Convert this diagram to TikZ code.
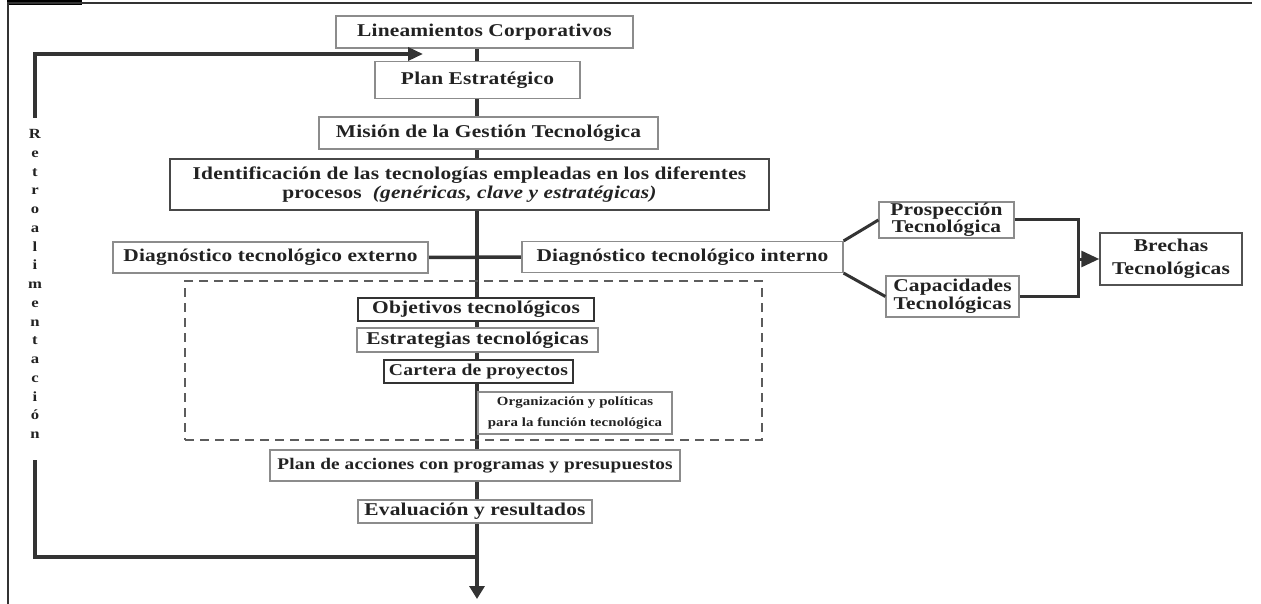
\documentclass[tikz,border=0pt]{standalone}
\usepackage{fontspec}
\setmainfont{Liberation Serif}
\newfontfamily\spaced[FakeStretch=1.19,LetterSpace=1]{Liberation Serif}
\usetikzlibrary{arrows.meta,backgrounds}
\definecolor{linec}{HTML}{333333}
\definecolor{boxc}{HTML}{8C8C8C}
\definecolor{txtc}{HTML}{222222}
\tikzset{
  box/.style={draw=boxc, line width=1.2pt, fill=white, text=txtc, inner sep=0pt,
    font=\spaced\bfseries\fontsize{18}{19}\selectfont, align=center},
  darkbox/.style={box, draw=linec, line width=1.5pt},
  smallbox/.style={box, font=\spaced\bfseries\fontsize{12.5}{21}\selectfont},
  conn/.style={draw=linec, line width=3.5pt},
  thinconn/.style={draw=linec, line width=3pt},
  groupbox/.style={draw=linec!80, line width=1.2pt, dash pattern=on 9pt off 6pt},
}
\begin{document}
\begin{tikzpicture}[x=1pt,y=-1pt]
\useasboundingbox (0,0) rectangle (1261,604);
% frame
\fill[black] (7,0) rectangle (82,5);
\draw[linec, line width=2.5pt] (7,3) -- (1252,3);
\draw[linec, line width=2pt] (8,3) -- (8,604);
% dashed group
\node[groupbox, minimum width=577pt, minimum height=159pt] (grp) at (473.5,360.5) {};
% boxes
\node[box, minimum width=297pt, minimum height=32pt] (lin) at (484.5,32) {Lineamientos Corporativos};
\node[box, minimum width=205pt, minimum height=37pt] (plan) at (477.5,80) {Plan Estratégico};
\node[box, minimum width=339pt, minimum height=32pt] (mis) at (488.5,133) {Misión de la Gestión Tecnológica};
\node[box, draw=linec!90, minimum width=599pt, minimum height=51pt] (ident) at (469.5,184.5) {Identificación de las tecnologías empleadas en los diferentes\\procesos \ \textit{(genéricas, clave y estratégicas)}};
\node[box, minimum width=315pt, minimum height=31pt] (ext) at (270.5,257.5) {Diagnóstico tecnológico externo};
\node[box, minimum width=321pt, minimum height=31pt] (int) at (682.5,257) {Diagnóstico tecnológico interno};
\node[box, font=\spaced\bfseries\fontsize{18}{17}\selectfont, minimum width=135pt, minimum height=36pt] (pros) at (946.5,220) {Prospección\\Tecnológica};
\node[box, font=\spaced\bfseries\fontsize{18}{18}\selectfont, minimum width=133pt, minimum height=41pt] (cap) at (952.5,296.5) {Capacidades\\Tecnológicas};
\node[darkbox, draw=linec!85, font=\spaced\bfseries\fontsize{18}{23}\selectfont, minimum width=142pt, minimum height=52pt] (bre) at (1171,259) {Brechas\\Tecnológicas};
\node[darkbox, minimum width=236pt, minimum height=23pt] (obj) at (476,309.5) {Objetivos tecnológicos};
\node[box, minimum width=241pt, minimum height=24pt] (est) at (477.5,340) {Estrategias tecnológicas};
\node[darkbox, font=\spaced\bfseries\fontsize{16.5}{18}\selectfont, minimum width=189pt, minimum height=23pt] (car) at (478.5,371.5) {Cartera de proyectos};
\node[smallbox, minimum width=194pt, minimum height=42pt] (org) at (575,413) {Organización y políticas\\para la función tecnológica};
\node[box, font=\spaced\bfseries\fontsize{16.2}{18}\selectfont, minimum width=410pt, minimum height=31pt] (pla) at (475,465.5) {Plan de acciones con programas y presupuestos};
\node[box, minimum width=234pt, minimum height=23pt] (eva) at (475,511.5) {Evaluación y resultados};
% feedback label
\node[text=txtc, font=\spaced\bfseries\fontsize{14}{18.75}\selectfont, align=center, inner sep=0pt] (retro) at (35,284)
  {R\\e\\t\\r\\o\\a\\l\\i\\m\\e\\n\\t\\a\\c\\i\\ó\\n};
% coordinates
\coordinate (mtop) at (477,48);
\coordinate (mtip) at (477,599);
\coordinate (fbstart) at (477,557);
\coordinate (fbc1) at (35,557);
\coordinate (fbend1) at (35,460);
\coordinate (fbend2) at (35,118);
\coordinate (fbc2) at (35,54);
\coordinate (fbtip) at (423,54);
\coordinate (jn) at (1078,259);
\begin{pgfonlayer}{background}
\draw[conn, -{Triangle[length=13pt,width=15pt]}] (mtop) -- (mtip);
\draw[conn] (ext.east) -- (int.west);
\end{pgfonlayer}
\draw[conn] (fbstart) -- (fbc1) -- (fbend1);
\draw[conn, -{Triangle[length=15pt,width=13pt]}] (fbend2) -- (fbc2) -- (fbtip);
\draw[thinconn] (int.north east) -- (pros.west);
\draw[thinconn] (int.south east) -- (cap.west);
\draw[thinconn] (pros.east) -| (jn) |- (cap.east);
\draw[thinconn, -{Triangle[length=18pt,width=16pt]}] (jn) -- (bre.west);
\end{tikzpicture}
\end{document}
